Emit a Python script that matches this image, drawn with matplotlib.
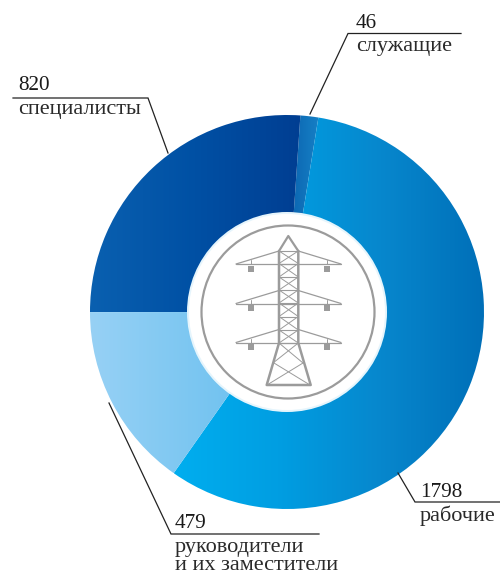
import numpy as np
import matplotlib
matplotlib.use("Agg")
import matplotlib.pyplot as plt
from matplotlib.colors import LinearSegmentedColormap
from matplotlib.patches import Circle

plt.rcParams["font.family"] = ["Liberation Serif", "DejaVu Serif"]

# data, clockwise from the top of the ring
categories = ["служащие", "рабочие", "руководители\nи их заместители", "специалисты"]
values = [46, 1798, 479, 820]

# left to right colours of each sector
gradients = [
    ["#0a62ae", "#1680c6"],
    ["#00aeef", "#009ee2", "#0787cd", "#006fb8"],
    ["#97d1f5", "#63bdee"],
    ["#0a60b0", "#0050a4", "#003e92"],
]

W, H = 500, 574
CX, CY, R = 287, 312, 197


def py(y):
    # picture rows count from the top
    return H - y


fig = plt.figure(figsize=(W / 100, H / 100), dpi=100)
ax = fig.add_axes([0, 0, 1, 1])

wedges, _ = ax.pie(values, startangle=90 - 3.9, counterclock=False,
                   center=(CX, py(CY)), radius=R)

for wedge, stops in zip(wedges, gradients):
    wedge.set_facecolor("none")
    wedge.set_edgecolor("none")
    cmap = LinearSegmentedColormap.from_list("g", stops)
    box = wedge.get_path().get_extents(wedge.get_transform() - ax.transData)
    im = ax.imshow(np.linspace(0, 1, 256).reshape(1, -1), cmap=cmap, aspect="auto",
                   extent=(box.x0, box.x1, box.y0, box.y1), zorder=1)
    im.set_clip_path(wedge)

ax.add_patch(Circle((CX, py(CY)), 100, fc="#e6f5fc", ec="none", zorder=2))
ax.add_patch(Circle((CX, py(CY)), 98, fc="white", ec="none", zorder=2))

GREY = "#9b9b9b"
ax.add_patch(Circle((CX + 1, py(CY)), 86.5, fc="none", ec=GREY, lw=1.6, zorder=3))


def tower_line(xs, ys, lw=1.0):
    ax.plot(xs, [py(y) for y in ys], color=GREY, lw=lw, zorder=3, solid_capstyle="round")


# outline
tower_line([279, 288.3, 298.3], [251, 236, 251], 1.6)
tower_line([279, 279, 266.7, 310.7, 298.3, 298.3], [251, 343, 385, 385, 343, 251], 1.8)
# lattice
rungs = [251, 263.5, 277, 290, 303, 316.5, 330, 343]
for top, bottom in zip(rungs[:-1], rungs[1:]):
    tower_line([279, 298.3], [top, top], 0.8)
    tower_line([279, 298.3], [top, bottom], 0.7)
    tower_line([298.3, 279], [top, bottom], 0.7)
tower_line([279, 298.3], [343, 343], 0.8)
tower_line([279, 303], [343, 363], 0.7)
tower_line([298.3, 273], [343, 363], 0.7)
tower_line([274, 310], [363, 385], 0.7)
tower_line([303, 267], [363, 385], 0.7)
# arms with insulators
for arm_y in [264, 303.5, 342.5]:
    tower_line([236, 341], [arm_y, arm_y], 0.9)
    tower_line([236, 279], [arm_y, arm_y - 13], 0.9)
    tower_line([341, 298.3], [arm_y, arm_y - 13], 0.9)
    for x in [250.5, 326.5]:
        tower_line([x, x], [arm_y - 4, arm_y], 0.7)
        ax.plot([x], [py(arm_y + 4.7)], marker="s", ms=4.4, color=GREY, mew=0, zorder=3)

# leader lines
leaders = [
    ([310, 348, 461], [114, 33.5, 33.5]),
    ([168, 148, 13], [153, 98, 98]),
    ([398, 415, 500], [473, 502, 502]),
    ([109, 171, 319], [403, 534, 534]),
]
for xs, ys in leaders:
    ax.plot(xs, [py(y) for y in ys], color="#222222", lw=0.9, zorder=4, solid_joinstyle="miter")

# labels: x of the text, baseline of the number, baseline of the first caption row
label_pos = [(356, 28, 51), (420, 497, 521), (175, 528, 552), (18, 90, 114)]
for value, name, (x, y_num, y_name) in zip(values, categories, label_pos):
    ax.text(x, py(y_num), str(value), fontsize=15.3, color="#1a1a1a", va="baseline", ha="left")
    for i, row in enumerate(name.split("\n")):
        ax.text(x, py(y_name + i * 18), row, fontsize=16, color="#2a2a2a", va="baseline", ha="left")

ax.set_xlim(0, W)
ax.set_ylim(0, H)
ax.set_aspect("auto")
ax.axis("off")
fig.savefig("out.png", dpi=100)
